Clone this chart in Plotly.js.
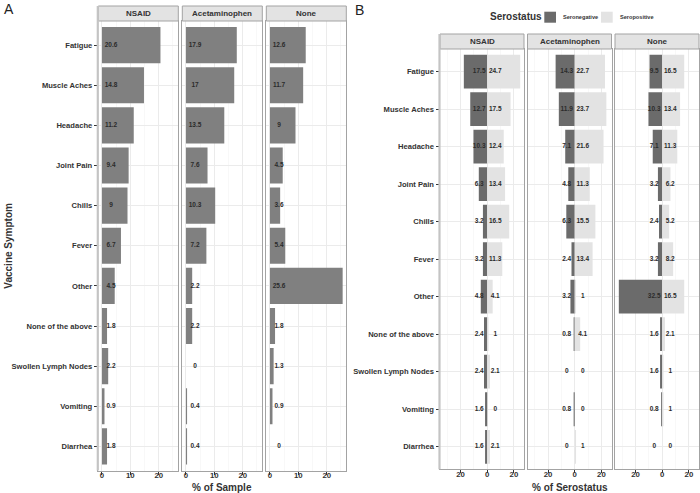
<!DOCTYPE html>
<html>
<head>
<meta charset="utf-8">
<script src="https://cdn.plot.ly/plotly-3.0.1.min.js"></script>
<style>html,body{margin:0;padding:0;background:#fff}#chart{width:700px;height:493px}</style>
</head>
<body>
<div id="chart"></div>
<script>
// ---------- data ----------
const symptoms = ["Fatigue","Muscle Aches","Headache","Joint Pain","Chills","Fever","Other","None of the above","Swollen Lymph Nodes","Vomiting","Diarrhea"];
const groups = ["NSAID","Acetaminophen","None"];

// Panel A: % of sample
const sampleNSAID = [20.6,14.8,11.2,9.4,9,6.7,4.5,1.8,2.2,0.9,1.8];
const sampleAcet  = [17.9,17,13.5,7.6,10.3,7.2,2.2,2.2,0,0.4,0.4];
const sampleNone  = [12.6,11.7,9,4.5,3.6,5.4,25.6,1.8,1.3,0.9,0];

// Panel B: % of serostatus
const negNSAID = [17.5,12.7,10.3,6.3,3.2,3.2,4.8,2.4,2.4,1.6,1.6];
const negAcet  = [14.3,11.9,7.1,4.8,6.3,2.4,3.2,0.8,0,0.8,0];
const negNone  = [9.5,10.3,7.1,3.2,2.4,3.2,32.5,1.6,1.6,0.8,0];
const posNSAID = [24.7,17.5,12.4,13.4,16.5,11.3,4.1,1,2.1,0,2.1];
const posAcet  = [22.7,23.7,21.6,11.3,15.5,13.4,1,4.1,0,0,1];
const posNone  = [16.5,13.4,11.3,6.2,5.2,8.2,16.5,2.1,1,1,0];

const serostatus = ["Seronegative","Seropositive"];
const xTicksA = [0,10,20];
const xTicksB = [-20,0,20];
const xTickTextB = ["20","0","20"];

// ---------- styling / geometry ----------
const W = 700, H = 493;
const px = v => v / W;
const py = v => 1 - v / H;
const FONT = "Liberation Sans, Arial, sans-serif";
const TXT = "#333333";
const BORDER = "#a3a3a3";
const GRID = "#ebebeb";
const MINOR = "#f4f4f4";
const BAR_A = "#808080";
const NEG_C = "#6b6b6b";
const POS_C = "#e3e3e3";

const panelsA = [[98.3,178.3],[182.3,262.3],[266.3,346.3]];
const panelsB = [[440,524],[527.5,611.5],[615,699]];
const plotA = [21, 470.5], stripA = [6, 21];
const plotB = [49, 469.3], stripB = [34, 49];
const rangeA = [-1.28, 26.88];
const rangeB = [-35.36, 27.56];
const catRange = [symptoms.length - 0.4, -0.6];

const sampleData = [sampleNSAID, sampleAcet, sampleNone];
const negData = [negNSAID, negAcet, negNone];
const posData = [posNSAID, posAcet, posNone];

const traces = [];
const layout = {
  width: W, height: H,
  margin: {l:0, r:0, t:0, b:0},
  paper_bgcolor: "#fff", plot_bgcolor: "#fff",
  showlegend: false,
  barmode: "overlay",
  font: {family: FONT, color: TXT},
  shapes: [], annotations: []
};

function xAxis(dom, range, anchor, ticks, ticktext, minorTick0, minorDtick) {
  const ax = {
    domain: [px(dom[0]), px(dom[1])], anchor: anchor, range: range,
    tickmode: "array", tickvals: ticks, ticktext: ticktext || ticks.map(String),
    ticks: "outside", ticklen: 3, tickcolor: TXT, tickwidth: 1,
    ticklabelstandoff: -6,
    tickfont: {family: FONT, size: 7.8, color: TXT, weight: "bold"},
    showgrid: true, gridcolor: GRID, gridwidth: 1,
    zeroline: false,
    showline: true, mirror: true, linecolor: BORDER, linewidth: 1,
    minor: {tick0: minorTick0, dtick: minorDtick, showgrid: true, gridcolor: MINOR, gridwidth: 0.6, ticks: ""},
    fixedrange: true
  };
  return ax;
}
function yAxis(plot, anchor, showLabels, matchName) {
  const ax = {
    domain: [py(plot[1]), py(plot[0])], anchor: anchor,
    type: "category", categoryorder: "array", categoryarray: symptoms,
    range: catRange,
    ticks: showLabels ? "outside" : "", ticklen: 3.5, tickcolor: TXT, tickwidth: 1,
    showticklabels: showLabels,
    tickfont: {family: FONT, size: 7.6, color: TXT, weight: "bold"},
    showgrid: true, gridcolor: GRID, gridwidth: 1,
    zeroline: false,
    showline: true, mirror: true, linecolor: BORDER, linewidth: 1,
    fixedrange: true
  };
  if (matchName) ax.matches = matchName;
  return ax;
}

// ---------- Panel A ----------
groups.forEach((g, i) => {
  const n = i + 1;
  const xa = "x" + (n === 1 ? "" : n), ya = "y" + (n === 1 ? "" : n);
  layout["xaxis" + (n === 1 ? "" : n)] = xAxis(panelsA[i], rangeA, ya, xTicksA, null, 5, 10);
  layout["yaxis" + (n === 1 ? "" : n)] = yAxis(plotA, xa, i === 0, i === 0 ? null : "y");
  traces.push({
    type: "bar", orientation: "h", x: sampleData[i], y: symptoms, width: 0.9,
    marker: {color: BAR_A, line: {width: 0}}, xaxis: xa, yaxis: ya, hoverinfo: "x+y", name: g
  });
  traces.push({
    type: "scatter", mode: "text", x: symptoms.map(() => 3.2), y: symptoms,
    text: sampleData[i].map(String), textposition: "middle center",
    textfont: {family: FONT, size: 6.5, color: "#2b2b2b", weight: "bold"},
    xaxis: xa, yaxis: ya, hoverinfo: "skip", cliponaxis: false
  });
  // strip
  layout.shapes.push({type: "rect", xref: "paper", yref: "paper",
    x0: px(panelsA[i][0]), x1: px(panelsA[i][1]), y0: py(stripA[1]), y1: py(stripA[0]),
    fillcolor: POS_C, line: {color: BORDER, width: 1}});
  layout.annotations.push({xref: "paper", yref: "paper", x: px((panelsA[i][0] + panelsA[i][1]) / 2),
    y: py((stripA[0] + stripA[1]) / 2), text: g, showarrow: false, xanchor: "center", yanchor: "middle",
    font: {family: FONT, size: 8, color: TXT, weight: "bold"}});
});

// ---------- Panel B ----------
groups.forEach((g, i) => {
  const n = i + 4;
  const xa = "x" + n, ya = "y" + n;
  layout["xaxis" + n] = xAxis(panelsB[i], rangeB, ya, xTicksB, xTickTextB, -30, 20);
  layout["yaxis" + n] = yAxis(plotB, xa, i === 0, i === 0 ? null : "y4");
  traces.push({
    type: "bar", orientation: "h", x: negData[i].map(v => -v), y: symptoms, width: 0.9,
    marker: {color: NEG_C, line: {width: 0}}, xaxis: xa, yaxis: ya, name: serostatus[0],
    text: negData[i].map(String), hoverinfo: "text+y", textposition: "none"
  });
  traces.push({
    type: "bar", orientation: "h", x: posData[i], y: symptoms, width: 0.9,
    marker: {color: POS_C, line: {width: 0}}, xaxis: xa, yaxis: ya, name: serostatus[1],
    text: posData[i].map(String), hoverinfo: "text+y", textposition: "none"
  });
  traces.push({
    type: "scatter", mode: "text", x: symptoms.map(() => -6), y: symptoms,
    text: negData[i].map(String), textposition: "middle center",
    textfont: {family: FONT, size: 6.5, color: "#2b2b2b", weight: "bold"},
    xaxis: xa, yaxis: ya, hoverinfo: "skip", cliponaxis: false
  });
  traces.push({
    type: "scatter", mode: "text", x: symptoms.map(() => 6), y: symptoms,
    text: posData[i].map(String), textposition: "middle center",
    textfont: {family: FONT, size: 6.5, color: "#2b2b2b", weight: "bold"},
    xaxis: xa, yaxis: ya, hoverinfo: "skip", cliponaxis: false
  });
  layout.shapes.push({type: "rect", xref: "paper", yref: "paper",
    x0: px(panelsB[i][0]), x1: px(panelsB[i][1]), y0: py(stripB[1]), y1: py(stripB[0]),
    fillcolor: POS_C, line: {color: BORDER, width: 1}});
  layout.annotations.push({xref: "paper", yref: "paper", x: px((panelsB[i][0] + panelsB[i][1]) / 2),
    y: py((stripB[0] + stripB[1]) / 2), text: g, showarrow: false, xanchor: "center", yanchor: "middle",
    font: {family: FONT, size: 8, color: TXT, weight: "bold"}});
});

// thicker left frame edge of the first facet in each group
[[panelsA[0][0], stripA[0], plotA[1]], [panelsB[0][0], stripB[0], plotB[1]]].forEach(e => {
  layout.shapes.push({type: "line", xref: "paper", yref: "paper",
    x0: px(e[0] - 0.5), x1: px(e[0] - 0.5), y0: py(e[1]), y1: py(e[2]),
    line: {color: "#c4c4c4", width: 2.2}, layer: "above"});
});

// ---------- titles & labels ----------
const ann = layout.annotations;
ann.push({xref: "paper", yref: "paper", x: px(222.3), y: py(487), text: "% of Sample", showarrow: false,
  xanchor: "center", yanchor: "middle", font: {family: FONT, size: 10, color: TXT, weight: "bold"}});
ann.push({xref: "paper", yref: "paper", x: px(569.5), y: py(487), text: "% of Serostatus", showarrow: false,
  xanchor: "center", yanchor: "middle", font: {family: FONT, size: 10, color: TXT, weight: "bold"}});
ann.push({xref: "paper", yref: "paper", x: px(9), y: py(245.7), text: "Vaccine Symptom", showarrow: false,
  textangle: -90, xanchor: "center", yanchor: "middle", font: {family: FONT, size: 10, color: TXT, weight: "bold"}});
ann.push({xref: "paper", yref: "paper", x: px(2), y: py(9.5), text: "A", showarrow: false,
  xanchor: "left", yanchor: "middle", font: {family: FONT, size: 14, color: "#222"}});
ann.push({xref: "paper", yref: "paper", x: px(353), y: py(10.5), text: "B", showarrow: false,
  xanchor: "left", yanchor: "middle", font: {family: FONT, size: 14, color: "#222"}});

// ---------- legend (Serostatus) ----------
ann.push({xref: "paper", yref: "paper", x: px(488), y: py(17), text: "Serostatus", showarrow: false,
  xanchor: "left", yanchor: "middle", font: {family: FONT, size: 10, color: TXT, weight: "bold"}});
layout.shapes.push({type: "rect", xref: "paper", yref: "paper", x0: px(544.3), x1: px(556), y0: py(22.7), y1: py(11.7),
  fillcolor: NEG_C, line: {width: 0}});
ann.push({xref: "paper", yref: "paper", x: px(560.5), y: py(17), text: serostatus[0], showarrow: false,
  xanchor: "left", yanchor: "middle", font: {family: FONT, size: 5.6, color: TXT, weight: "bold"}});
layout.shapes.push({type: "rect", xref: "paper", yref: "paper", x0: px(601), x1: px(612.7), y0: py(22.7), y1: py(11.7),
  fillcolor: POS_C, line: {width: 0}});
ann.push({xref: "paper", yref: "paper", x: px(617.5), y: py(17), text: serostatus[1], showarrow: false,
  xanchor: "left", yanchor: "middle", font: {family: FONT, size: 5.6, color: TXT, weight: "bold"}});

Plotly.newPlot("chart", traces, layout, {displayModeBar: false, staticPlot: true});
</script>
</body>
</html>
